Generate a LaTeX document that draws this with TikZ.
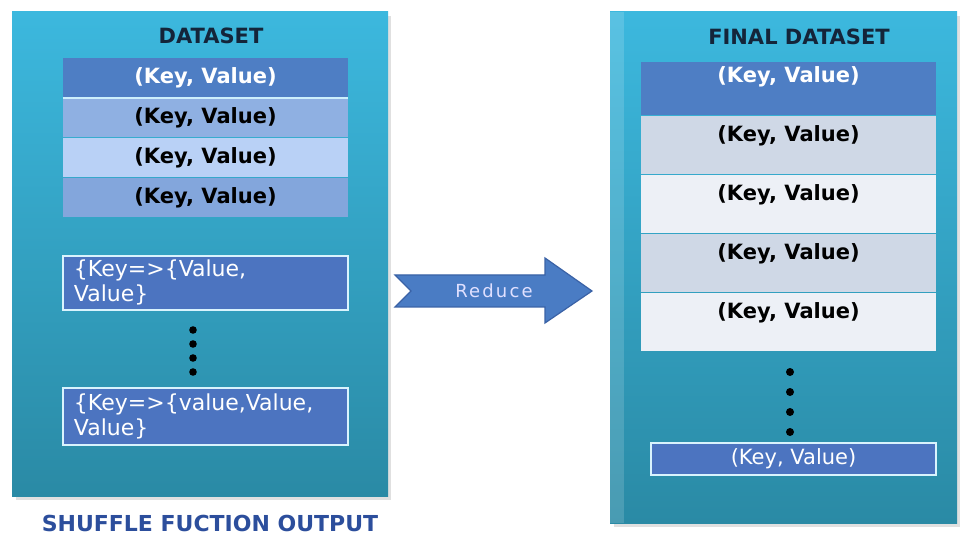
\documentclass[tikz,border=0pt]{standalone}
\usepackage{fontspec}
\setmainfont{DejaVu Sans}
\usetikzlibrary{positioning}

\definecolor{paneltop}{HTML}{3CB8DE}
\definecolor{panelbot}{HTML}{2A8AA5}
\definecolor{titleink}{HTML}{14253A}
\definecolor{capblue}{HTML}{2C4E9C}
\definecolor{rowdark}{HTML}{4E7EC4}
\definecolor{rowmid}{HTML}{8FB0E2}
\definecolor{rowlight}{HTML}{B9D1F6}
\definecolor{rowblue}{HTML}{83A6DC}
\definecolor{rowgrey}{HTML}{CFD8E6}
\definecolor{rowpale}{HTML}{EDF0F6}
\definecolor{boxblue}{HTML}{4C74C0}
\definecolor{arrowfill}{HTML}{4A7CC4}
\definecolor{arrowline}{HTML}{3A62A6}

\begin{document}
\begin{tikzpicture}[x=0.5pt,y=-0.5pt,
    panel/.style={top color=paneltop, bottom color=panelbot},
    heading/.style={font=\bfseries\fontsize{10.5}{12}\selectfont, text=titleink},
    kv/.style={rectangle, minimum width=142.5pt, minimum height=19.5pt, inner sep=0pt,
      font=\bfseries\fontsize{10.5}{12}\selectfont},
    fkv/.style={rectangle, minimum width=147.5pt, inner sep=0pt, text height=12.75pt, text depth=16.25pt,
      font=\bfseries\fontsize{10.5}{12}\selectfont},
    group/.style={rectangle, fill=boxblue, draw=white!85!cyan, line width=0.8pt, text=white,
      align=left, text width=131.5pt, inner xsep=5.5pt, inner ysep=1pt,
      font=\fontsize{11}{12.5}\selectfont}]
  \useasboundingbox (0,0) rectangle (960,535);

  \fill[black!12] (16,16) rectangle (391,500);
  \shade[panel] (12,12) rectangle (388,496);
  \fill[black!12] (614,16) rectangle (960,527);
  \shade[panel] (610,12) rectangle (957,523);
  \fill[white, opacity=0.15] (610,12) rectangle (624,523);

  \node[heading] (dtitle) at (211,36) {DATASET};
  \node[kv, fill=rowdark, text=white, anchor=north] (d1) at (205.5,58) {(Key, Value)};
  \node[kv, fill=rowmid, below=0pt of d1] (d2) {(Key, Value)};
  \node[kv, fill=rowlight, below=0pt of d2] (d3) {(Key, Value)};
  \node[kv, fill=rowblue, below=0pt of d3] (d4) {(Key, Value)};
  \draw[white!80!cyan, line width=1pt] (d1.south west) -- (d1.south east);

  \node[group, minimum height=27pt, anchor=north] (g1) at (205.5,255) {\{Key=>\{Value,\\Value\}};
  \foreach \y in {330,344,358,372}
    \fill[black] (193,\y) circle (3.8);
  \node[group, minimum height=28.5pt, anchor=north] (g2) at (205.5,387) {\{Key=>\{value,Value,\\Value\}};

  \node[font=\bfseries\fontsize{11}{13}\selectfont, text=capblue] (caption) at (210,523) {SHUFFLE FUCTION OUTPUT};

  \filldraw[fill=arrowfill, draw=arrowline, line width=0.6pt]
    (395,275) -- (545,275) -- (545,258) -- (592,291) -- (545,323) -- (545,307) -- (395,307) -- (411,291) -- cycle;
  \node[text=white!88!blue, font=\fontsize{9}{10}\selectfont\addfontfeatures{LetterSpace=12}] (reduce) at (494,291) {Reduce};

  \node[heading] (ftitle) at (799,37) {FINAL DATASET};
  \node[fkv, fill=rowdark, text=white, anchor=north, text height=10.25pt] (f1) at (788.5,62) {(Key, Value)};
  \node[fkv, fill=rowgrey, below=0pt of f1] (f2) {(Key, Value)};
  \node[fkv, fill=rowpale, below=0pt of f2] (f3) {(Key, Value)};
  \node[fkv, fill=rowgrey, below=0pt of f3] (f4) {(Key, Value)};
  \node[fkv, fill=rowpale, below=0pt of f4] (f5) {(Key, Value)};
  \foreach \y in {372,392,412,432}
    \fill[black] (790,\y) circle (4);
  \node[kv, fill=boxblue, draw=white!85!cyan, line width=0.8pt, text=white, minimum height=16pt,
    font=\fontsize{10.5}{12}\selectfont] (flast) at (793.5,459) {(Key, Value)};
\end{tikzpicture}
\end{document}
